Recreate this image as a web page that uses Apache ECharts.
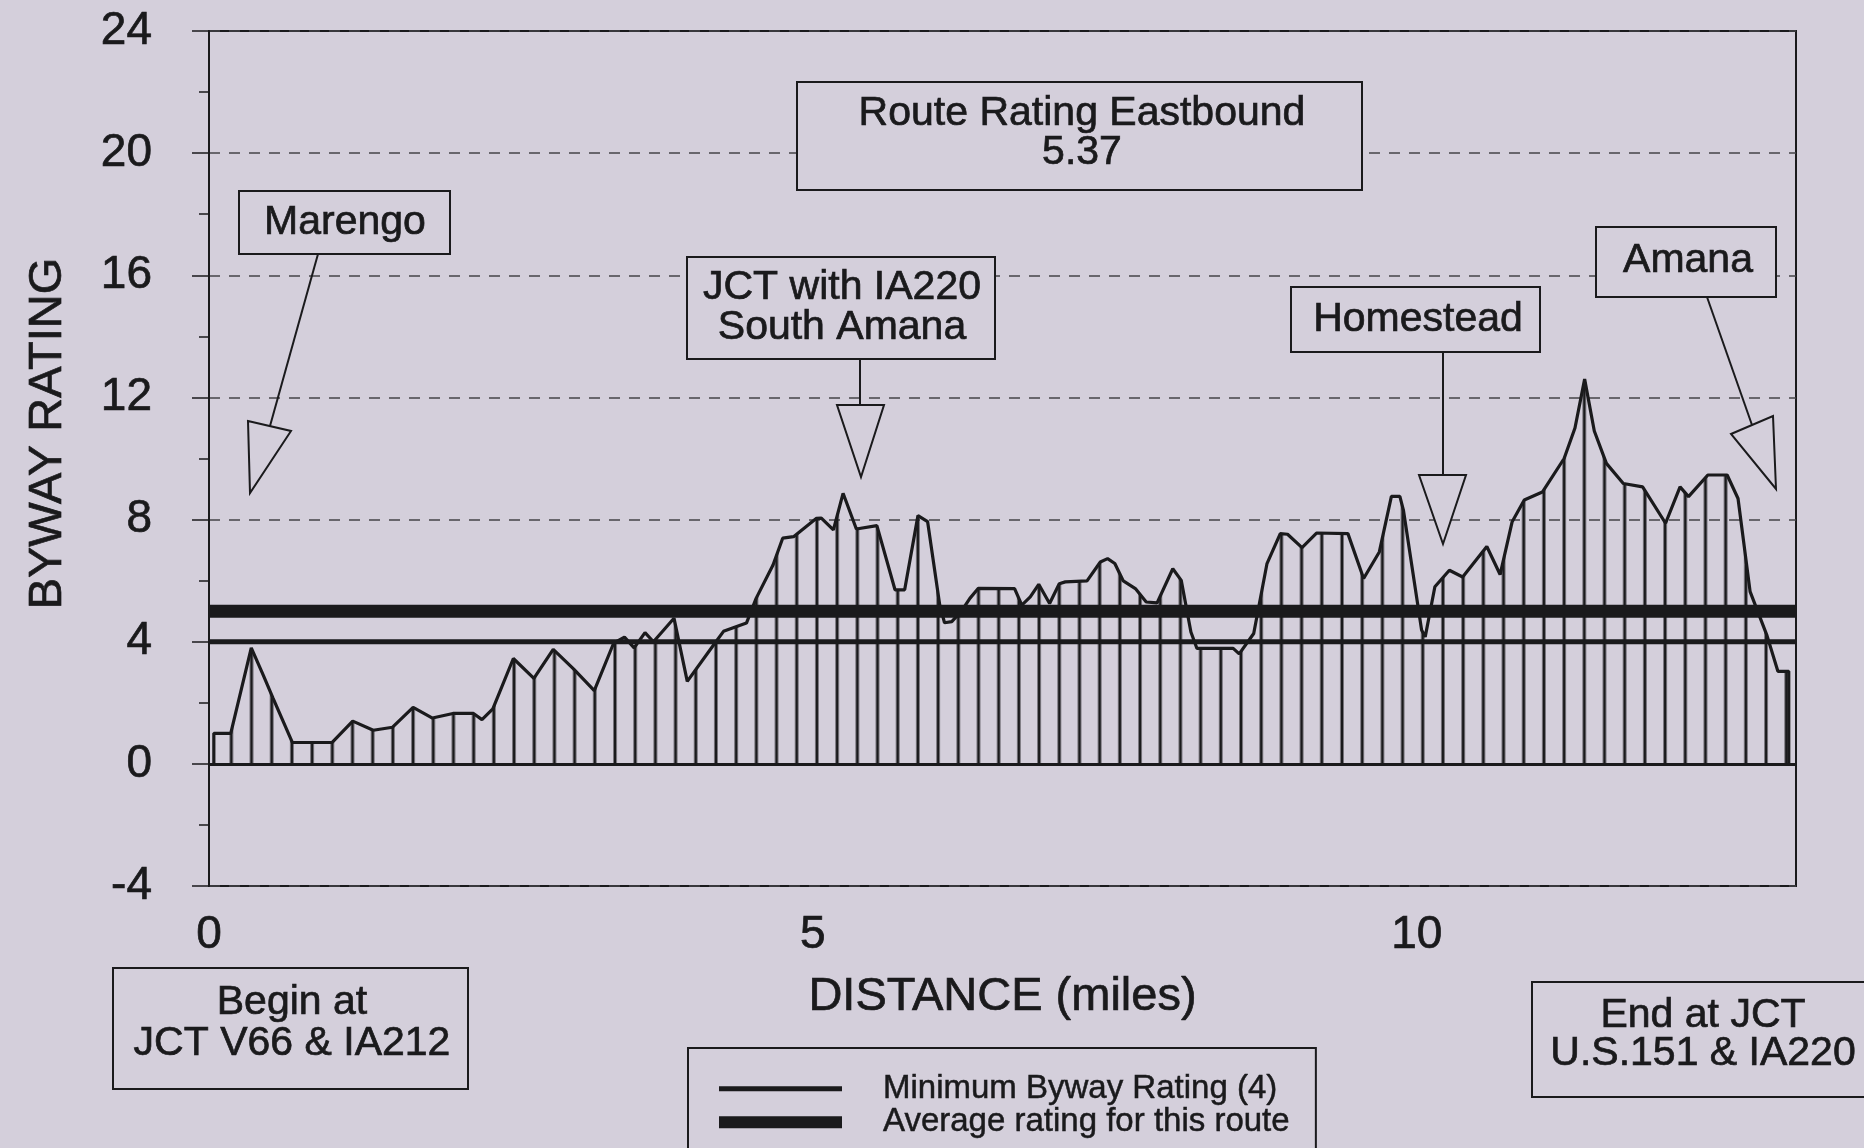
<!DOCTYPE html>
<html>
<head>
<meta charset="utf-8">
<script src="https://cdn.jsdelivr.net/npm/echarts@6/dist/echarts.min.js"></script>
<style>
  html, body { margin: 0; padding: 0; background: #d4cfdb; }
  #chart { width: 1864px; height: 1148px; }
</style>
</head>
<body>
<div id="chart"></div>
<script>
// ---------------- DATA ----------------
const distanceMiles = [
  0.04, 0.04, 0.18, 0.35, 0.45, 0.53, 0.69, 1.02, 1.19, 1.36,
  1.52, 1.69, 1.85, 2.02, 2.19, 2.26, 2.35, 2.52, 2.69, 2.85,
  3.02, 3.19, 3.35, 3.44, 3.52, 3.61, 3.68, 3.85, 3.96, 4.17,
  4.26, 4.45, 4.53, 4.67, 4.75, 4.84, 5.03, 5.07, 5.17, 5.25,
  5.36, 5.53, 5.68, 5.76, 5.87, 5.95, 6.05, 6.09, 6.15, 6.23,
  6.30, 6.37, 6.67, 6.73, 6.80, 6.87, 6.96, 7.04, 7.09, 7.27,
  7.38, 7.44, 7.50, 7.57, 7.67, 7.76, 7.85, 7.98, 8.05, 8.13,
  8.18, 8.48, 8.53, 8.65, 8.76, 8.87, 8.93, 9.05, 9.17, 9.43,
  9.56, 9.69, 9.79, 9.86, 9.89, 10.04, 10.07, 10.15, 10.27, 10.38,
  10.58, 10.69, 10.79, 10.89, 11.04, 11.22, 11.31, 11.39, 11.47, 11.57,
  11.71, 11.87, 12.06, 12.18, 12.25, 12.41, 12.57, 12.66, 12.76, 12.90,
  12.99, 13.08, 13.08
];
const bywayRating = [
  0, 1.0, 1.0, 3.8, 2.9, 2.15, 0.7, 0.7, 1.4, 1.1,
  1.2, 1.85, 1.5, 1.65, 1.65, 1.45, 1.8, 3.45, 2.8, 3.75,
  3.1, 2.4, 3.95, 4.15, 3.8, 4.3, 4.0, 4.77, 2.7, 3.85,
  4.34, 4.61, 5.42, 6.51, 7.39, 7.44, 8.04, 8.05, 7.66, 8.86,
  7.69, 7.8, 5.7, 5.7, 8.13, 7.93, 5.21, 4.62, 4.66, 5.0,
  5.42, 5.75, 5.74, 5.2, 5.47, 5.88, 5.25, 5.9, 5.96, 5.99,
  6.61, 6.72, 6.56, 5.99, 5.74, 5.3, 5.27, 6.39, 6.01, 4.32,
  3.78, 3.78, 3.6, 4.27, 6.56, 7.54, 7.52, 7.08, 7.56, 7.54,
  6.07, 6.94, 8.76, 8.76, 8.3, 4.38, 4.16, 5.8, 6.34, 6.12,
  7.12, 6.2, 7.93, 8.64, 8.9, 10.0, 11.0, 12.6, 10.9, 9.84,
  9.18, 9.07, 7.88, 9.07, 8.75, 9.46, 9.46, 8.69, 5.64, 4.2,
  3.03, 3.03, 0
];
const minimumRating = 4;          // Minimum Byway Rating (4)
const averageLineRating = 5.0;    // where the average-rating line is drawn in the picture
const routeRatingEastbound = '5.37';
const distanceRange = [0, 13.14];
const ratingRange = [-4, 24];
const ratingStep = 4;
const distanceStep = 5;

const seriesNames = ['Minimum Byway Rating (4)', 'Average rating for this route'];
const annotationTexts = {
  route: 'Route Rating Eastbound\n' + routeRatingEastbound,
  jct: 'JCT with IA220\nSouth Amana',
  marengo: 'Marengo',
  homestead: 'Homestead',
  amana: 'Amana',
  begin: 'Begin at\nJCT V66 & IA212',
  end: 'End at JCT\nU.S.151 & IA220'
};

// ---------------- STYLE ----------------
const bg = '#d4cfdb';
const ink = '#1a1a1c';
const FAMILY = '"Liberation Sans", Arial, Helvetica, sans-serif';
const font = (s) => s + 'px ' + FAMILY;
const heavy = { textBorderColor: ink, textBorderWidth: 0.7 };
const hatchStartMiles = 0.1846;
const hatchStepMiles = 0.1672;

const ratingData = distanceMiles.map((d, i) => [d, bywayRating[i]]);

function box(x, y, w, h) {
  return { type: 'rect', z: 100, shape: { x, y, width: w, height: h },
    style: { fill: bg, stroke: ink, lineWidth: 2 } };
}
function label(x, y, text, size, lh) {
  return { type: 'text', z: 101, x, y,
    style: { text, font: font(size), fill: ink, align: 'center', verticalAlign: 'middle', lineHeight: lh || size,
      stroke: ink, lineWidth: 0.7 } };
}
function seg(x1, y1, x2, y2) {
  return { type: 'line', z: 100, shape: { x1, y1, x2, y2 }, style: { stroke: ink, lineWidth: 2 } };
}
function tri(pts) {
  return { type: 'polygon', z: 100, shape: { points: pts }, style: { fill: bg, stroke: ink, lineWidth: 2 } };
}

const option = {
  backgroundColor: bg,
  animation: false,
  textStyle: { fontFamily: FAMILY, color: ink },
  grid: { left: 209, right: 68, top: 31, bottom: 262, show: true, borderColor: ink, borderWidth: 2, backgroundColor: 'transparent' },
  xAxis: {
    type: 'value', min: distanceRange[0], max: distanceRange[1], interval: distanceStep,
    name: 'DISTANCE (miles)', nameLocation: 'middle', nameGap: 88,
    nameTextStyle: Object.assign({ fontSize: 47, color: ink, fontFamily: FAMILY }, heavy),
    axisLine: { show: true, lineStyle: { color: ink, width: 2 } },
    axisTick: { show: false },
    splitLine: { show: false },
    axisLabel: Object.assign({ fontSize: 46, color: ink, margin: 26, showMaxLabel: false, fontFamily: FAMILY }, heavy)
  },
  yAxis: {
    type: 'value', min: ratingRange[0], max: ratingRange[1], interval: ratingStep,
    name: 'BYWAY RATING', nameLocation: 'middle', nameGap: 137, nameRotate: 90,
    nameTextStyle: Object.assign({ fontSize: 47, color: ink, fontFamily: FAMILY, padding: [0, 0, 0, 50] }, heavy),
    axisLine: { show: true, lineStyle: { color: ink, width: 2 } },
    axisTick: { show: true, length: 17, lineStyle: { color: ink, width: 1.5 } },
    minorTick: { show: true, splitNumber: 2, length: 10, lineStyle: { color: ink, width: 1.5 } },
    splitLine: { show: true, lineStyle: { color: '#444448', width: 1.6, type: [11, 9] } },
    axisLabel: Object.assign({ fontSize: 46, color: ink, margin: 57, fontFamily: FAMILY }, heavy)
  },
  legend: {
    orient: 'vertical', left: 688, top: 1048, height: 200,
    selectedMode: false,
    data: [
      { name: seriesNames[0], icon: 'path://M0,4H123V9H0Z' },
      { name: seriesNames[1], icon: 'path://M0,0H123V12H0Z' }
    ],
    itemWidth: 123, itemHeight: 12, itemGap: 0,
    padding: [24, 26, 60, 31],
    borderColor: ink, borderWidth: 2, backgroundColor: bg,
    textStyle: Object.assign({ fontSize: 33, color: ink, fontFamily: FAMILY, padding: [0, 0, 0, 36] }, { textBorderColor: ink, textBorderWidth: 0.5 })
  },
  series: [
    {
      id: 'rating', name: 'Byway rating', type: 'line', data: ratingData,
      showSymbol: false, symbol: 'none', smooth: false, z: 3,
      lineStyle: { color: ink, width: 3.2 },
      itemStyle: { color: ink },
      areaStyle: { color: 'rgba(0,0,0,0)', opacity: 1 },
      markLine: {
        silent: true, symbol: 'none', label: { show: false },
        lineStyle: { color: ink, width: 3, type: 'solid' },
        data: [{ yAxis: 0 }]
      }
    },
    {
      name: seriesNames[0], type: 'line', z: 4,
      data: [[distanceRange[0], minimumRating], [distanceRange[1], minimumRating]],
      showSymbol: false, symbol: 'none',
      lineStyle: { color: ink, width: 5, cap: 'butt' }, itemStyle: { color: ink }
    },
    {
      name: seriesNames[1], type: 'line', z: 4,
      data: [[distanceRange[0], averageLineRating], [distanceRange[1], averageLineRating]],
      showSymbol: false, symbol: 'none',
      lineStyle: { color: ink, width: 13, cap: 'butt' }, itemStyle: { color: ink }
    }
  ],
  graphic: [
    // Route rating box
    box(797, 82, 565, 108), label(1082, 133, annotationTexts.route, 41, 39),
    // JCT with IA220 / South Amana
    box(687, 257, 308, 102), label(842, 308, annotationTexts.jct, 41, 40),
    seg(860, 359, 860, 405), tri([[837, 405], [884, 405], [861, 477]]),
    // Marengo
    box(239, 191, 211, 63), label(345, 223, annotationTexts.marengo, 41),
    seg(318, 254, 270, 426), tri([[248, 421], [291, 431], [250, 493]]),
    // Homestead
    box(1291, 287, 249, 65), label(1418, 320, annotationTexts.homestead, 41),
    seg(1443, 352, 1443, 475), tri([[1419, 475], [1466, 475], [1443, 544]]),
    // Amana
    box(1596, 227, 180, 70), label(1688, 261, annotationTexts.amana, 41),
    seg(1707, 297, 1752, 425), tri([[1731, 434], [1773, 416], [1776, 489]]),
    // Begin / End
    box(113, 968, 355, 121), label(292, 1023, annotationTexts.begin, 41, 41),
    box(1532, 982, 360, 115), label(1703, 1035, annotationTexts.end, 41, 38)
  ]
};

const chart = echarts.init(document.getElementById('chart'), null, { renderer: 'canvas', width: 1864, height: 1148 });
chart.setOption(option);

// vertical hatch fill of the area under the rating line
const pA = chart.convertToPixel({ xAxisIndex: 0 }, hatchStartMiles);
const pB = chart.convertToPixel({ xAxisIndex: 0 }, hatchStartMiles + 10 * hatchStepMiles);
const period = (pB - pA) / 10;
const tile = document.createElement('canvas');
tile.width = 20; tile.height = 4;
const tctx = tile.getContext('2d');
tctx.fillStyle = ink;
tctx.fillRect(8.5, 0, 3, 4);
const sx = period / 20;
chart.setOption({
  series: [{ id: 'rating', areaStyle: { color: { image: tile, repeat: 'repeat', x: pA - 10 * sx, y: 0, scaleX: sx, scaleY: 1 }, opacity: 1 } }]
});
</script>
</body>
</html>
